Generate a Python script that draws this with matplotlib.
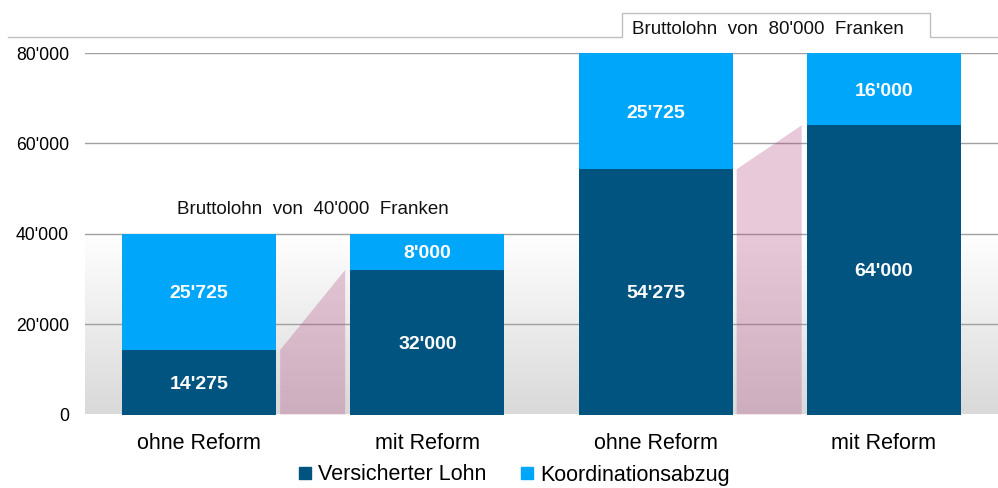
import numpy as np
import matplotlib
matplotlib.use("Agg")
import matplotlib.pyplot as plt
from matplotlib.patches import Polygon
from matplotlib.lines import Line2D

plt.rcParams['font.family'] = ['Liberation Sans', 'DejaVu Sans']

categories = ["ohne Reform", "mit Reform", "ohne Reform", "mit Reform"]
versichert = [14275, 32000, 54275, 64000]
koordination = [25725, 8000, 25725, 16000]
yticks = [0, 20000, 40000, 60000, 80000]

dark = '#01547f'
light = '#00a6f9'

def fmt(v):
    return f"{v:,}".replace(",", "'")

W, H = 998, 488
fig = plt.figure(figsize=(W / 100, H / 100), dpi=100)
ax = fig.add_axes([85 / W, 1 - 414.5 / H, 1 - 85 / W, (414.5 - 53) / H])

x = np.arange(len(categories))
width = 0.675

# background gradient (white above 40'000, grey towards 0)
yy = np.linspace(0, 80000, 400)
g = (217 + (255 - 217) * np.clip(yy / 40000, 0, 1)) / 255
bg = np.dstack([g, g, g]).reshape(len(yy), 1, 3)
ax.imshow(bg, origin='lower', extent=(-0.5, 3.5, 0, 80000), aspect='auto', zorder=0)

# gridlines
for t in yticks[1:]:
    ax.axhline(t, color='#a0a0a0', lw=1, zorder=0.5)

# pink connectors between ohne/mit Reform
for i in [0, 2]:
    x0 = x[i] + 0.355
    x1 = x[i + 1] - 0.36
    poly = Polygon([(x0, 0), (x0, versichert[i]), (x1, versichert[i + 1]), (x1, 0)],
                   closed=True, facecolor=(176 / 255, 69 / 255, 124 / 255), alpha=0.29,
                   edgecolor='none', zorder=1)
    ax.add_patch(poly)

ax.bar(x, versichert, width, color=dark, zorder=2, label='Versicherter Lohn')
ax.bar(x, koordination, width, bottom=versichert, color=light, zorder=2,
       label='Koordinationsabzug')

for i in range(len(x)):
    ax.text(x[i], versichert[i] / 2, fmt(versichert[i]), color='white', fontsize=14,
            fontweight='bold', ha='center', va='center_baseline', zorder=3)
    ax.text(x[i], versichert[i] + koordination[i] / 2, fmt(koordination[i]), color='white',
            fontsize=14, fontweight='bold', ha='center', va='center_baseline', zorder=3)

ax.set_xlim(-0.5, 3.5)
ax.set_ylim(0, 80000)
ax.set_yticks(yticks)
ax.set_yticklabels([fmt(t) for t in yticks], fontsize=12.7)
ax.set_xticks(x)
ax.set_xticklabels(categories, fontsize=15.5)
ax.tick_params(axis='y', length=0, pad=11.5)
ax.tick_params(axis='x', length=0, pad=13.5)
for s in ax.spines.values():
    s.set_visible(False)

ax.text(0.5, 45300, "Bruttolohn  von  40'000  Franken", fontsize=13.5, ha='center',
        va='center', color='#111111')

# top frame line with tab for the 80'000 label
px = [8, 622, 622, 930, 930, 998]
py = [37, 37, 13, 13, 37, 37]
fig.add_artist(Line2D([p / W for p in px], [1 - p / H for p in py],
                      transform=fig.transFigure, color='#bfbfbf', lw=1))
fig.text(768 / W, 1 - 29 / H, "Bruttolohn  von  80'000  Franken", fontsize=13.5,
         ha='center', va='center', color='#111111')

handles = [Line2D([], [], marker='s', ls='none', color=dark, markersize=8),
           Line2D([], [], marker='s', ls='none', color=light, markersize=8)]
fig.legend(handles, ['Versicherter Lohn', 'Koordinationsabzug'], loc='center',
           bbox_to_anchor=(514 / W, 1 - 475 / H), ncol=2, frameon=False, fontsize=15.5,
           handlelength=0.6, handletextpad=0.3, columnspacing=1.6, borderpad=0)

fig.savefig('out.png', dpi=100)
